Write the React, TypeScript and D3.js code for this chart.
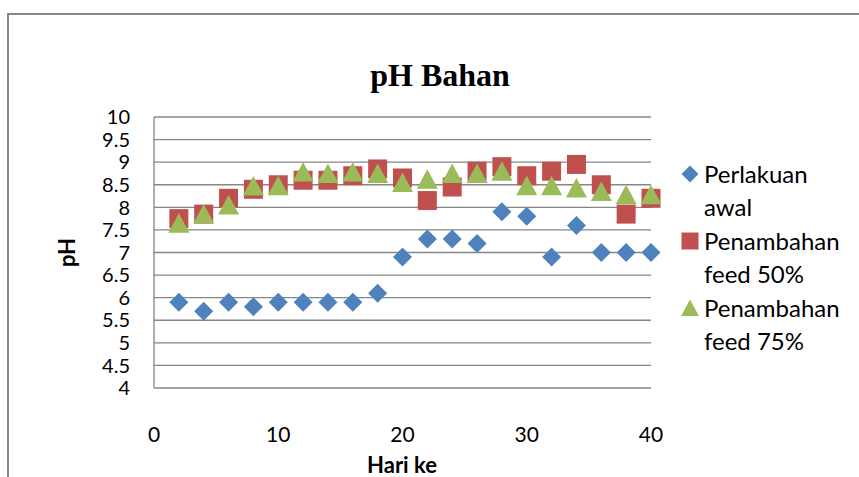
import React from "react";
import * as d3 from "d3";

const days = [2, 4, 6, 8, 10, 12, 14, 16, 18, 20, 22, 24, 26, 28, 30, 32, 34, 36, 38, 40];
const perlakuanAwal = [5.9, 5.7, 5.9, 5.8, 5.9, 5.9, 5.9, 5.9, 6.1, 6.9, 7.3, 7.3, 7.2, 7.9, 7.8, 6.9, 7.6, 7.0, 7.0, 7.0];
const feed50 = [7.75, 7.85, 8.2, 8.4, 8.5, 8.6, 8.6, 8.7, 8.85, 8.65, 8.15, 8.45, 8.8, 8.9, 8.7, 8.8, 8.95, 8.5, 7.85, 8.2];
const feed75 = [7.65, 7.85, 8.05, 8.47, 8.48, 8.78, 8.75, 8.78, 8.75, 8.55, 8.62, 8.75, 8.75, 8.8, 8.48, 8.48, 8.43, 8.35, 8.28, 8.28];
const yTicks = [4, 4.5, 5, 5.5, 6, 6.5, 7, 7.5, 8, 8.5, 9, 9.5, 10];
const xTicks = [0, 10, 20, 30, 40];
const seriesNames = [["Perlakuan", "awal"], ["Penambahan", "feed 50%"], ["Penambahan", "feed 75%"]];
const colors = ["#4F81BD", "#C0504D", "#9BBB59"];

const W = 859, H = 477;
const x = d3.scaleLinear().domain([0, 40]).range([154, 651]);
const y = d3.scaleLinear().domain([4, 10]).range([388, 117]);

const diamond = (s: number) => `M0,${-s}L${s},0L0,${s}L${-s},0Z`;
const square = (s: number) => `M${-s},${-s}H${s}V${s}H${-s}Z`;
const triangle = (s: number) => `M0,${-s}L${s * 1.05},${s * 0.95}L${-s * 1.05},${s * 0.95}Z`;
const shapes = [diamond, square, triangle];

export default function App() {
  const sans = "Lato, 'Open Sans', sans-serif";
  const series = [perlakuanAwal, feed50, feed75];
  return (
    <svg width={W} height={H} style={{ position: "absolute", left: 0, top: 0, background: "#fff" }}>
      <rect x={0} y={0} width={W} height={H} fill="#fff" />
      <path d={`M8,${H}V14H${W}`} fill="none" stroke="#868686" strokeWidth={2} />
      <text x={440} y={86} textAnchor="middle" fontFamily="'Liberation Serif', 'Times New Roman', serif" fontWeight="bold" fontSize={32}>
        pH  Bahan
      </text>
      {yTicks.map((t) => (
        <line key={t} x1={x(0)} x2={x(40)} y1={y(t)} y2={y(t)} stroke="#868686" strokeWidth={1.3} />
      ))}
      <line x1={x(0)} x2={x(0)} y1={y(10)} y2={y(4)} stroke="#868686" strokeWidth={1.3} />
      {yTicks.map((t) => (
        <text key={t} x={130} y={y(t)} dy="0.36em" textAnchor="end" fontFamily={sans} fontSize={20} fill="#000">
          {String(t)}
        </text>
      ))}
      {xTicks.map((t) => (
        <text key={t} x={x(t)} y={434} dy="0.36em" textAnchor="middle" fontFamily={sans} fontSize={21} fill="#000">
          {String(t)}
        </text>
      ))}
      <text x={402} y={465} dy="0.36em" textAnchor="middle" fontFamily={sans} fontWeight="bold" fontSize={22}>
        Hari ke
      </text>
      <text transform={`translate(67,${(y(4) + y(10)) / 2}) rotate(-90)`} dy="0.36em" textAnchor="middle" fontFamily={sans} fontWeight="bold" fontSize={22}>
        pH
      </text>
      {series.map((vals, si) => (
        <g key={si} fill={colors[si]}>
          {vals.map((v, i) => (
            <path key={i} transform={`translate(${x(days[i])},${y(v)})`} d={shapes[si](si === 2 ? 10 : 9.5)} />
          ))}
        </g>
      ))}
      {seriesNames.map((lines, si) => {
        const top = 174 + si * 67;
        return (
          <g key={si}>
            <path transform={`translate(690,${top})`} d={shapes[si](8.5)} fill={colors[si]} />
            {lines.map((ln, li) => (
              <text key={li} x={704} y={top + li * 33} dy="0.36em" fontFamily={sans} fontSize={24} fill="#000">
                {ln}
              </text>
            ))}
          </g>
        );
      })}
    </svg>
  );
}
